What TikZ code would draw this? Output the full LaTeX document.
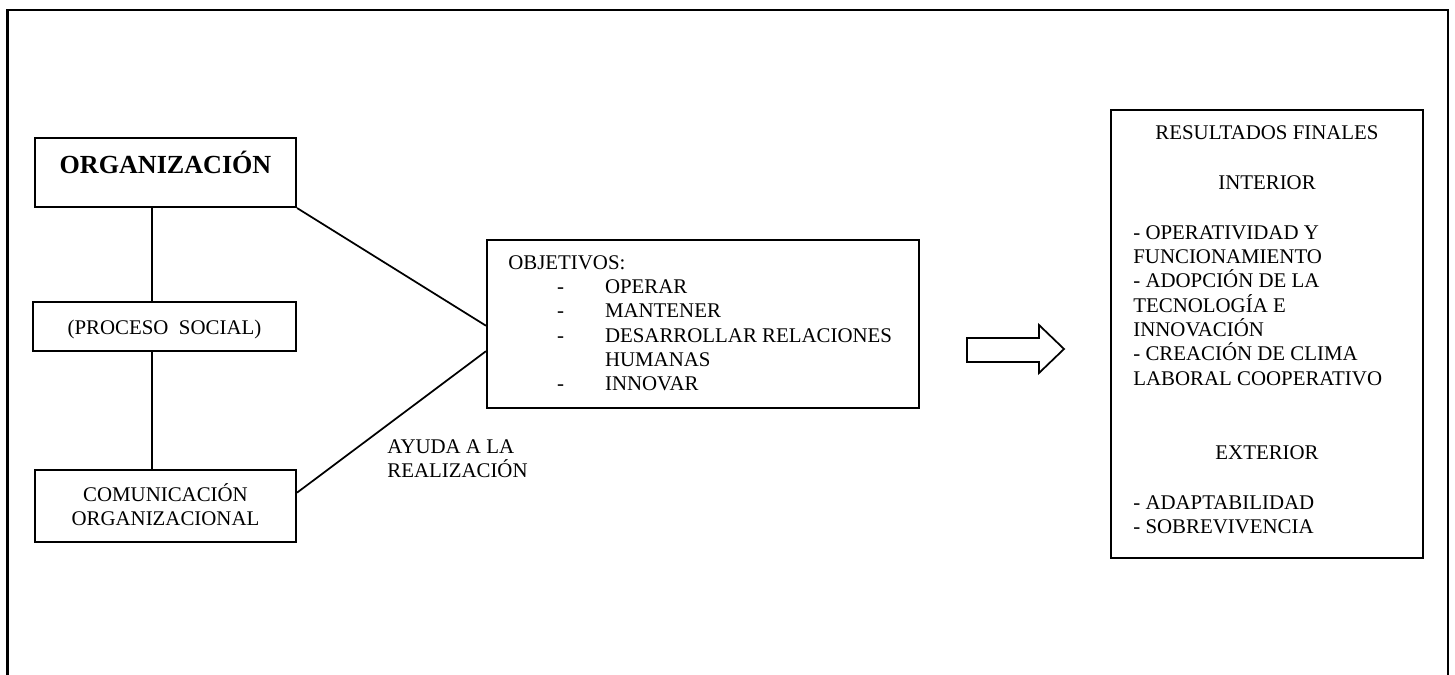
\documentclass[tikz,border=0pt]{standalone}
\usepackage{fontspec}
\setmainfont{Liberation Serif}
\usetikzlibrary{fit,calc}
\begin{document}
\begin{tikzpicture}[x=0.575pt,y=-0.575pt,
  box/.style={draw, line width=1.2pt, inner sep=0pt},
  txt/.style={inner sep=0pt, font=\fontsize{12}{14}\selectfont},
  list/.style={txt, align=left, anchor=north west},
  link/.style={line width=1pt},
  frame/.style={line width=1.3pt}]
\useasboundingbox (0,0) rectangle (1455,675);

% open outer frame
\coordinate (fbl) at (7.5,675);
\coordinate (ftl) at (7.5,10);
\coordinate (ftr) at (1448,10);
\coordinate (fbr) at (1448,675);
\draw[frame] (fbl) -- (ftl) -- (ftr) -- (fbr);

% left column
\node[box, fit={(35,138) (296,207)}] (org) {};
\node[txt, anchor=base, font=\fontsize{15}{18}\selectfont\bfseries] (orgt) at (165.5,174) {ORGANIZACIÓN};

\node[box, fit={(33,302) (296,351)}] (proc) {};
\node[txt, anchor=base] (proct) at (164.5,334) {(PROCESO\ \ SOCIAL)};

\node[box, fit={(35,470) (296,542)}] (com) {};
\node[txt, anchor=base] (comt1) at (165.5,501) {COMUNICACIÓN};
\node[txt, anchor=base] (comt2) at (165.5,525) {ORGANIZACIONAL};

\coordinate (vx) at (152,0);
\draw[link] (org.south -| vx) -- (proc.north -| vx);
\draw[link] (proc.south -| vx) -- (com.north -| vx);

% objectives
\node[box, fit={(487,240) (919,408)}] (obj) {};
\node[list] (objt) at (508,255) {OBJETIVOS:\\
  \makebox[28pt][l]{}\makebox[27.6pt][l]{-}OPERAR\\
  \makebox[28pt][l]{}\makebox[27.6pt][l]{-}MANTENER\\
  \makebox[28pt][l]{}\makebox[27.6pt][l]{-}DESARROLLAR RELACIONES\\
  \makebox[28pt][l]{}\makebox[27.6pt][l]{}HUMANAS\\
  \makebox[28pt][l]{}\makebox[27.6pt][l]{-}INNOVAR};

\draw[link] (org.south east) -- ($(obj.north west)!0.51!(obj.south west)$);
\draw[link] ($(com.north east)!0.32!(com.south east)$) -- ($(obj.south west)!0.34!(obj.north west)$);

\node[list] (ayuda) at (387,439) {AYUDA A LA\\REALIZACIÓN};

% block arrow
\draw[line width=1pt] (967,338) -- (1039,338) -- (1039,325) -- (1064,349)
  -- (1039,373) -- (1039,362) -- (967,362) -- cycle;

% results
\node[box, fit={(1111,110) (1423,558)}] (res) {};
\node[txt, anchor=base] (rest) at (1267,140) {RESULTADOS FINALES};
\node[txt, anchor=base] (inter) at (1267,190) {INTERIOR};
\node[list] (interl) at (1133,225) {- OPERATIVIDAD Y\\FUNCIONAMIENTO\\- ADOPCIÓN DE LA\\TECNOLOGÍA E\\INNOVACIÓN\\- CREACIÓN DE CLIMA\\LABORAL COOPERATIVO};
\node[txt, anchor=base] (exter) at (1267,459) {EXTERIOR};
\node[list] (exterl) at (1133,495) {- ADAPTABILIDAD\\- SOBREVIVENCIA};
\end{tikzpicture}
\end{document}
